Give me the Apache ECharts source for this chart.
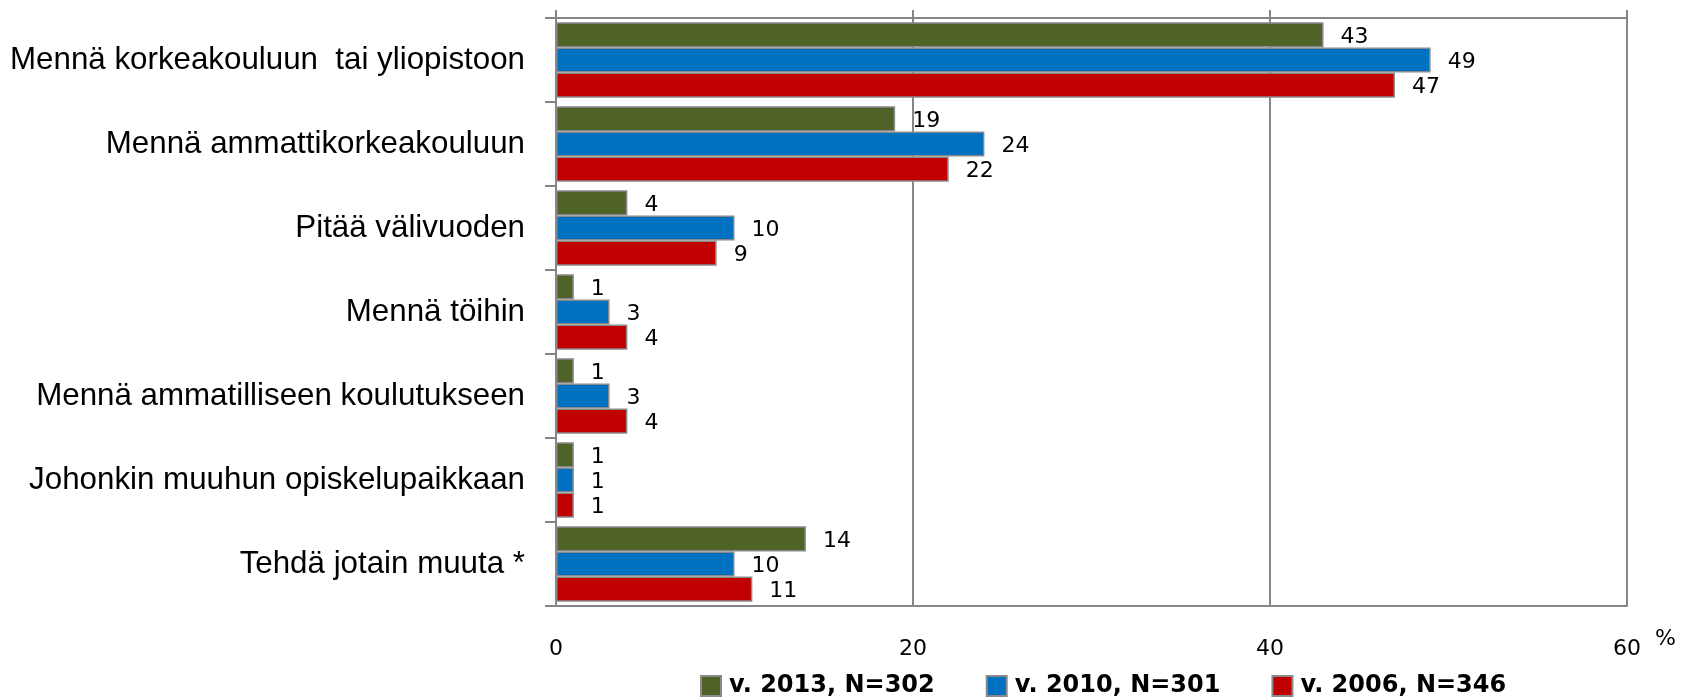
<!DOCTYPE html>
<html>
<head>
<meta charset="utf-8">
<script src="https://cdn.jsdelivr.net/npm/echarts@6/dist/echarts.min.js"></script>
<style>
html,body{margin:0;padding:0;background:#fff;}
#chart{width:1682px;height:697px;}
</style>
</head>
<body>
<div id="chart"></div>
<script>
const categories = [
  'Mennä korkeakouluun  tai yliopistoon',
  'Mennä ammattikorkeakouluun',
  'Pitää välivuoden',
  'Mennä töihin',
  'Mennä ammatilliseen koulutukseen',
  'Johonkin muuhun opiskelupaikkaan',
  'Tehdä jotain muuta *'
];
const seriesNames = ['v. 2013, N=302', 'v. 2010, N=301', 'v. 2006, N=346'];
const values2013 = [43, 19, 4, 1, 1, 1, 14];
const values2010 = [49, 24, 10, 3, 3, 1, 10];
const values2006 = [47, 22, 9, 4, 4, 1, 11];
const unitLabel = '%';
const colors = ['#4F6228', '#0070C0', '#C00000'];
const axisMin = 0, axisMax = 60, axisInterval = 20;

const chart = echarts.init(document.getElementById('chart'));
const gridColor = '#868686';
const dataSets = [values2013, values2010, values2006];

chart.setOption({
  animation: false,
  backgroundColor: '#ffffff',
  grid: { left: 556, right: 55, top: 18, bottom: 91, containLabel: false, outerBoundsMode: 'none' },
  legend: {
    data: seriesNames,
    left: 695, top: 669,
    itemWidth: 20, itemHeight: 20, itemGap: 51,
    icon: 'rect',
    textStyle: { fontFamily: 'DejaVu Sans', fontWeight: 'bold', fontSize: 24, color: '#000', padding: [0,0,0,3] }
  },
  xAxis: [
    {
      type: 'value', position: 'bottom',
      min: axisMin, max: axisMax, interval: axisInterval,
      axisLine: { show: true, lineStyle: { color: gridColor, width: 2 } },
      axisTick: { show: false },
      axisLabel: { margin: 32, fontFamily: 'DejaVu Sans', fontSize: 22, color: '#000' },
      splitLine: { show: true, lineStyle: { color: gridColor, width: 2 } }
    },
    {
      type: 'value', position: 'top',
      min: axisMin, max: axisMax, interval: axisInterval,
      axisLine: { show: true, lineStyle: { color: gridColor, width: 2 } },
      axisTick: { show: true, length: 8, lineStyle: { color: gridColor, width: 2 } },
      axisLabel: { show: false },
      splitLine: { show: false }
    }
  ],
  yAxis: {
    type: 'category', data: categories, inverse: true,
    axisLine: { show: true, lineStyle: { color: gridColor, width: 2 } },
    axisTick: { show: true, length: 11, lineStyle: { color: gridColor, width: 2 } },
    axisLabel: { margin: 31, fontFamily: 'Liberation Sans', fontSize: 31.3, color: '#000' }
  },
  series: seriesNames.map((n, i) => ({
    name: n, type: 'bar', xAxisIndex: 0,
    data: dataSets[i],
    barGap: '0%', barCategoryGap: '10%',
    itemStyle: { color: colors[i], borderColor: '#8a8a8a', borderWidth: 1.5 },
    label: { show: true, position: 'right', distance: 17, offset: [0, 2], fontFamily: 'DejaVu Sans', fontSize: 22, color: '#000' }
  }))
});

function placeUnit() {
  const end = chart.convertToPixel({ xAxisIndex: 0 }, axisMax);
  const gridBottom = 697 - 91;
  chart.setOption({
    graphic: [{
      type: 'text', left: end + 28, top: gridBottom + 22,
      style: { text: unitLabel, fontFamily: 'DejaVu Sans', fontSize: 22, fill: '#000' }
    }]
  });
}
placeUnit();
</script>
</body>
</html>
